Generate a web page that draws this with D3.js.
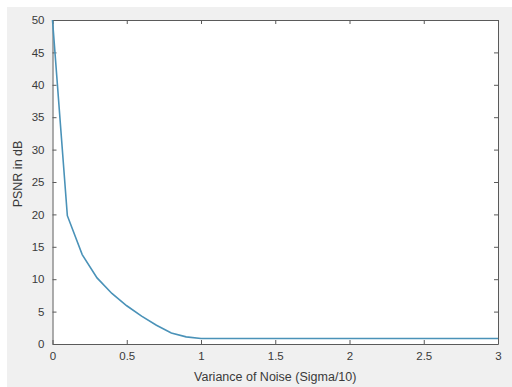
<!DOCTYPE html>
<html><head><meta charset="utf-8">
<script src="https://cdn.jsdelivr.net/npm/d3@7"></script>
<style>body{margin:0;background:#fff}svg{display:block}</style>
</head><body><svg id="c" width="512" height="387"></svg>
<script>
const sigma = [0,0.1,0.2,0.3,0.4,0.5,0.6,0.7,0.8,0.9,1.0,1.5,2.0,2.5,3.0];
const psnr  = [50,19.8,13.8,10.2,7.8,5.9,4.3,2.9,1.7,1.1,0.85,0.85,0.85,0.85,0.85];
const xTicks = [0,0.5,1,1.5,2,2.5,3];
const yTicks = [0,5,10,15,20,25,30,35,40,45,50];
const xLabel = "Variance of Noise (Sigma/10)";
const yLabel = "PSNR in dB";

const svg = d3.select("#c");
const L=52.5, R=498, T=20, B=344;
svg.append("rect").attr("x",7).attr("y",7).attr("width",505).attr("height",380).attr("fill","#f0f0f0");
svg.append("rect").attr("x",L).attr("y",T).attr("width",R-L).attr("height",B-T).attr("fill","#fff");

const x = d3.scaleLinear().domain([0,3]).range([L,R]);
const y = d3.scaleLinear().domain([0,50]).range([B,T]);
const axisCol = "#5a5a5a", txtCol = "#3a3a3a";
const font = "Liberation Sans, Arial, sans-serif";

function style(g){
  g.select(".domain").attr("stroke",axisCol);
  g.selectAll(".tick line").attr("stroke",axisCol);
  g.selectAll(".tick text").attr("fill",txtCol).style("font-family",font).style("font-size","11.5px");
}
svg.append("g").attr("transform",`translate(0,${B})`)
  .call(d3.axisBottom(x).tickValues(xTicks).tickFormat(d3.format("")).tickSizeInner(-4).tickSizeOuter(0).tickPadding(8)).call(style);
svg.append("g").attr("transform",`translate(${L},0)`)
  .call(d3.axisLeft(y).tickValues(yTicks).tickSizeInner(-4).tickSizeOuter(0).tickPadding(8)).call(style);
svg.append("g").attr("transform",`translate(0,${T})`)
  .call(d3.axisTop(x).tickValues(xTicks).tickFormat("").tickSizeInner(-4).tickSizeOuter(0)).call(style);
svg.append("g").attr("transform",`translate(${R},0)`)
  .call(d3.axisRight(y).tickValues(yTicks).tickFormat("").tickSizeInner(-4).tickSizeOuter(0)).call(style);

const pts = sigma.map((s,i)=>[s,psnr[i]]);
svg.append("path").datum(pts)
  .attr("d", d3.line().x(d=>x(d[0])).y(d=>y(d[1])))
  .attr("fill","none").attr("stroke","#4a92b8").attr("stroke-width",1.6);

svg.append("text").attr("x",(L+R)/2).attr("y",381).attr("text-anchor","middle")
  .attr("fill",txtCol).style("font-family",font).style("font-size","12.5px").text(xLabel);
svg.append("text").attr("transform",`translate(22,${(T+B)/2-8}) rotate(-90)`).attr("text-anchor","middle")
  .attr("fill",txtCol).style("font-family",font).style("font-size","12.5px").text(yLabel);
</script></body></html>
